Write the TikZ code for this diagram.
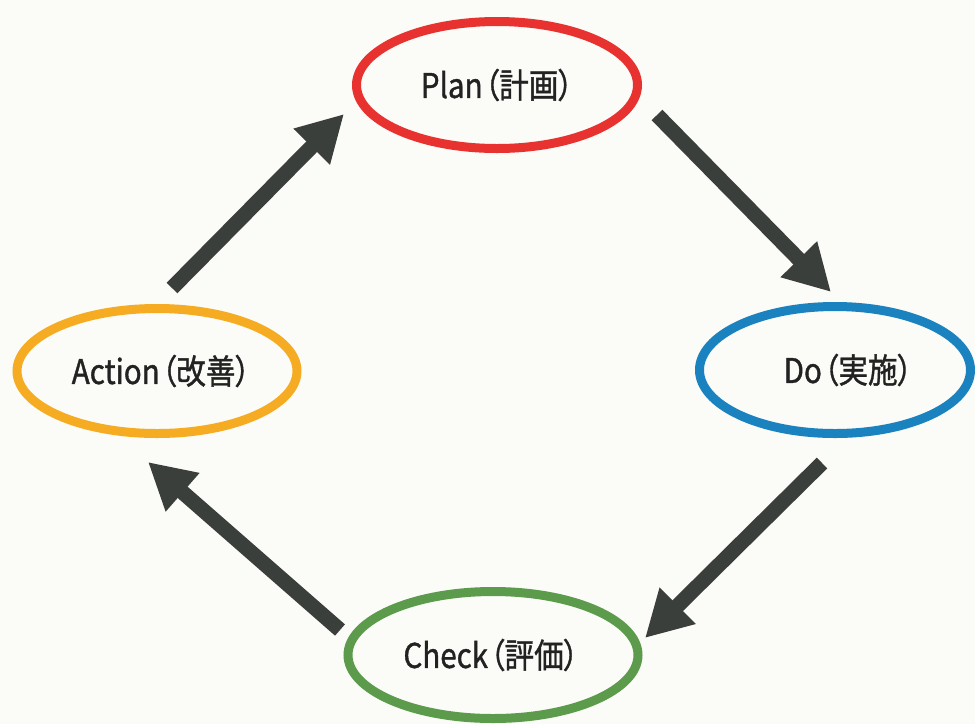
\documentclass[tikz,border=0pt]{standalone}
\usepackage{fontspec}
\usepackage{graphicx}
\usetikzlibrary{shapes.geometric,arrows.meta}
\newfontfamily\jp[RawFeature={+palt},FakeBold=1.2]{Noto Sans CJK JP}
\definecolor{bgc}{HTML}{FBFBF8}
\definecolor{pred}{HTML}{E8322F}
\definecolor{dblue}{HTML}{1A82BE}
\definecolor{cgreen}{HTML}{5C9A4C}
\definecolor{aorange}{HTML}{F5AC22}
\definecolor{arrc}{HTML}{3A3F3C}
\definecolor{txtc}{HTML}{222222}
\tikzset{
  phase/.style={ellipse, line width=9pt, inner sep=0pt, text=txtc,
    font=\jp\fontsize{34}{34}\selectfont},
  flow/.style={draw=arrc, line width=15pt,
    -{Triangle[length=46pt,width=48pt]}, arrc}
}
\newcommand{\lbl}[1]{\scalebox{0.87}[1]{#1}}
\begin{document}
\begin{tikzpicture}[x=1pt,y=-1pt]
  \fill[bgc] (0,0) rectangle (975,724);
  \useasboundingbox (0,0) rectangle (975,724);

  \node[phase, draw=pred, minimum width=281pt, minimum height=127pt] (plan) at (497,85) {\lbl{Plan\kern2pt（計画）}};
  \node[phase, draw=dblue, minimum width=271pt, minimum height=127pt] (do) at (835,370) {\hspace*{26pt}\lbl{Do\kern2pt（実施）}};
  \node[phase, draw=cgreen, minimum width=290pt, minimum height=127pt] (check) at (493,655) {\hspace*{-4pt}\lbl{Check\kern2pt（評価）}};
  \node[phase, draw=aorange, minimum width=280pt, minimum height=125pt] (action) at (157,371) {\hspace*{8pt}\lbl{Action\kern2pt（改善）}};

  \coordinate (ap1) at (172,288);
  \coordinate (ap2) at (344,114);
  \coordinate (pd1) at (657,115);
  \coordinate (pd2) at (831,292);
  \coordinate (dc1) at (822,463);
  \coordinate (dc2) at (645,638);
  \coordinate (ca1) at (340,630);
  \coordinate (ca2) at (148,462);

  \draw[flow] (ap1) -- (ap2);
  \draw[flow] (pd1) -- (pd2);
  \draw[flow] (dc1) -- (dc2);
  \draw[flow] (ca1) -- (ca2);
\end{tikzpicture}
\end{document}
